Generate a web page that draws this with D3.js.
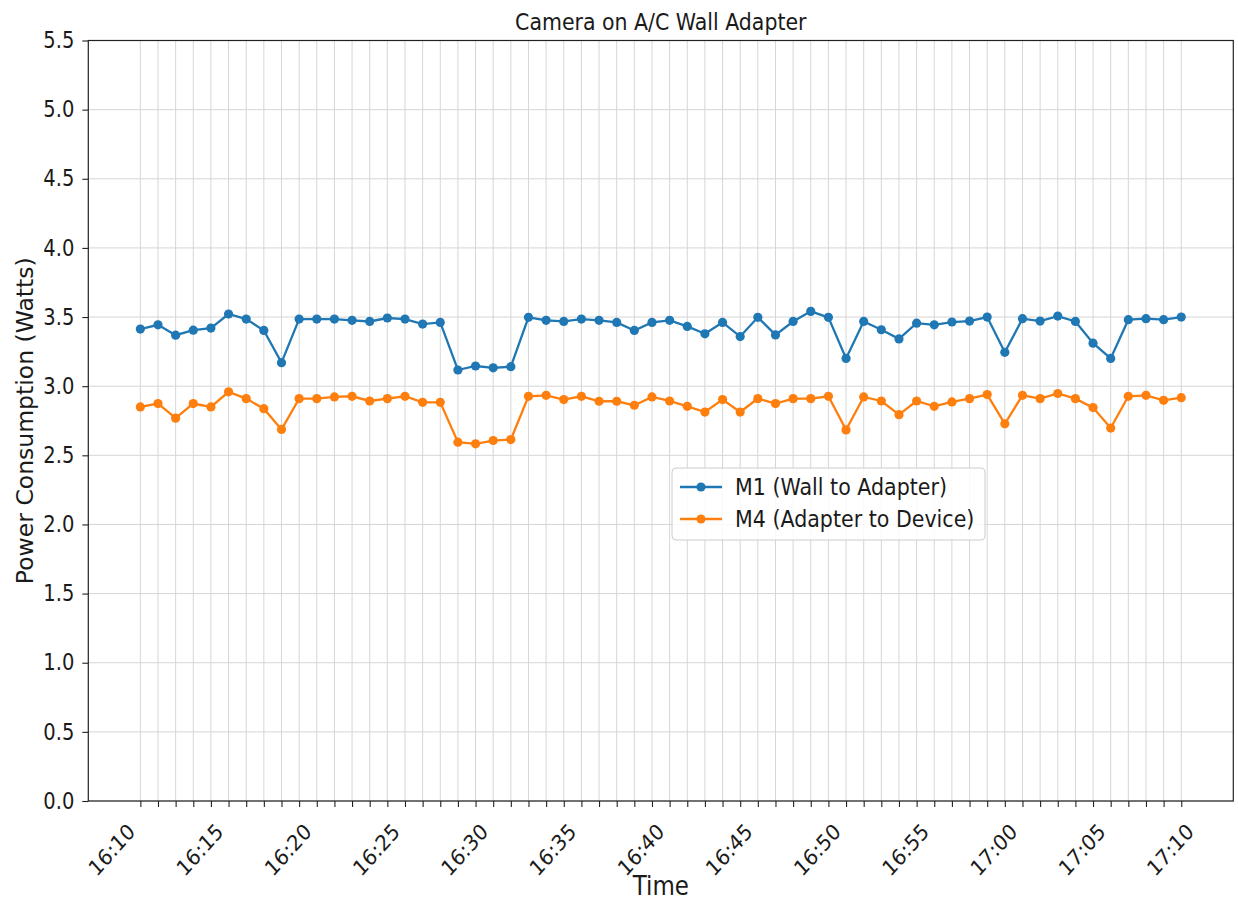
<html>

<head>
  <title>Camera on A/C Wall Adapter</title>
  <script src="https://d3js.org/d3.v7.min.js"></script>
  <style>
    body { margin: 0; background: #ffffff; }
    text { font-family: "DejaVu Sans", sans-serif; fill: #1a1a1a; }
  </style>
</head>

<body>
  <div id="chart"></div>

  <script type="text/javascript">

    // one reading per minute, starting 16:10
    var m1 = [3.413, 3.444, 3.369, 3.405, 3.420, 3.522, 3.485, 3.403, 3.170, 3.485,
              3.485, 3.485, 3.476, 3.468, 3.493, 3.485, 3.449, 3.461, 3.117, 3.146,
              3.133, 3.141, 3.498, 3.476, 3.468, 3.485, 3.476, 3.461, 3.403, 3.461,
              3.476, 3.432, 3.379, 3.461, 3.359, 3.498, 3.371, 3.468, 3.541, 3.498,
              3.201, 3.468, 3.408, 3.342, 3.456, 3.444, 3.464, 3.471, 3.500, 3.245,
              3.488, 3.471, 3.507, 3.468, 3.311, 3.201, 3.481, 3.488, 3.481, 3.500];

    var m4 = [2.850, 2.874, 2.769, 2.874, 2.850, 2.959, 2.910, 2.837, 2.687, 2.910,
              2.910, 2.922, 2.927, 2.893, 2.910, 2.927, 2.883, 2.883, 2.595, 2.583,
              2.607, 2.614, 2.927, 2.934, 2.903, 2.927, 2.891, 2.891, 2.862, 2.922,
              2.893, 2.854, 2.813, 2.903, 2.813, 2.910, 2.874, 2.910, 2.910, 2.927,
              2.684, 2.922, 2.893, 2.794, 2.893, 2.854, 2.886, 2.910, 2.939, 2.728,
              2.934, 2.910, 2.947, 2.910, 2.845, 2.697, 2.927, 2.934, 2.898, 2.917];

    var timeLabels = ["16:10", "16:15", "16:20", "16:25", "16:30", "16:35", "16:40",
                      "16:45", "16:50", "16:55", "17:00", "17:05", "17:10"];
    var labelStep = 5; // minutes between labels

    var yTicks = [0, 0.5, 1, 1.5, 2, 2.5, 3, 3.5, 4, 4.5, 5, 5.5];

    var seriesNames = ["M1 (Wall to Adapter)", "M4 (Adapter to Device)"];
    var seriesColors = ["#1f77b4", "#ff7f0e"];

    // Setting up the graph dimensions and margins
    var margin = {top: 40.5, right: 4.7, bottom: 99, left: 88.3};
    var width = 1238 - margin.left - margin.right;
    var height = 900 - margin.top - margin.bottom;
    var stretch = 'scale(1,1.15)'; // the picture is a bit taller than wide

    var n = m1.length;
    var pad = (n - 1) * 0.05;
    var x = d3.scaleLinear().domain([-pad, n - 1 + pad]).range([0, width]);
    var y = d3.scaleLinear().domain([0, 5.5]).range([height, 0]);

    var svg = d3.select('#chart')
                .append('svg')
                  .attr('width', 1238)
                  .attr('height', 900)
                .append('g')
                  .attr('transform', 'translate(' + margin.left + ',' + margin.top + ')');

    // grid
    svg.append('g')
       .selectAll('line')
       .data(d3.range(n))
       .enter().append('line')
         .attr('x1', function(d) { return x(d); })
         .attr('x2', function(d) { return x(d); })
         .attr('y1', 0)
         .attr('y2', height)
         .attr('stroke', '#d6d6d6')
         .attr('stroke-width', 1);

    svg.append('g')
       .selectAll('line')
       .data(yTicks)
       .enter().append('line')
         .attr('x1', 0)
         .attr('x2', width)
         .attr('y1', function(d) { return y(d); })
         .attr('y2', function(d) { return y(d); })
         .attr('stroke', '#d6d6d6')
         .attr('stroke-width', 1);

    // axes
    var x_axis = d3.axisBottom(x).tickValues(d3.range(n)).tickSize(6).tickFormat('');
    var y_axis = d3.axisLeft(y).tickValues(yTicks).tickSize(6).tickPadding(8)
                   .tickFormat(d3.format('.1f'));

    var gx = svg.append('g')
                .attr('transform', 'translate(0,' + height + ')')
                .call(x_axis);
    gx.select('.domain').remove();
    gx.selectAll('line').attr('stroke', '#222').attr('stroke-width', 1.1);

    var gy = svg.append('g').call(y_axis);
    gy.select('.domain').remove();
    gy.selectAll('line').attr('stroke', '#222').attr('stroke-width', 1.1);
    gy.selectAll('text')
      .attr('transform', stretch)
      .style('font-size', '19.5px')
      .style('font-family', '"DejaVu Sans", sans-serif')
      .attr('fill', '#1a1a1a');

    // rotated time labels
    svg.append('g')
       .selectAll('text')
       .data(timeLabels)
       .enter().append('text')
         .attr('transform', function(d, i) {
           return 'translate(' + (x(i * labelStep) - 4) + ',' + (height + 32) + ') scale(1,1.12) rotate(-45)';
         })
         .style('text-anchor', 'end')
         .style('font-size', '19.5px')
         .text(function(d) { return d; });

    // series
    var line = d3.line()
                 .x(function(d, i) { return x(i); })
                 .y(function(d) { return y(d); });

    [m1, m4].forEach(function(vals, k) {
      svg.append('path')
         .datum(vals)
         .attr('fill', 'none')
         .attr('stroke', seriesColors[k])
         .attr('stroke-width', 2.3)
         .attr('d', line);

      svg.append('g')
         .selectAll('circle')
         .data(vals)
         .enter().append('circle')
           .attr('cx', function(d, i) { return x(i); })
           .attr('cy', function(d) { return y(d); })
           .attr('r', 4.6)
           .attr('fill', seriesColors[k]);
    });

    // frame
    svg.append('rect')
       .attr('width', width)
       .attr('height', height)
       .attr('fill', 'none')
       .attr('stroke', '#222')
       .attr('stroke-width', 1.2);

    // legend
    var legend = svg.append('g')
                    .attr('transform', 'translate(' + (672 - margin.left) + ',' + (468 - margin.top) + ')');
    legend.append('rect')
          .attr('width', 313)
          .attr('height', 72)
          .attr('rx', 4)
          .attr('fill', '#ffffff')
          .attr('fill-opacity', 0.85)
          .attr('stroke', '#cccccc');

    seriesNames.forEach(function(name, k) {
      var row = legend.append('g').attr('transform', 'translate(0,' + (19 + k * 32) + ')');
      row.append('line')
         .attr('x1', 8).attr('x2', 50)
         .attr('stroke', seriesColors[k])
         .attr('stroke-width', 2.3);
      row.append('circle')
         .attr('cx', 29)
         .attr('r', 4.6)
         .attr('fill', seriesColors[k]);
      row.append('text')
         .attr('transform', 'translate(63,0) ' + stretch)
         .attr('dy', '0.35em')
         .style('font-size', '20.6px')
         .text(name);
    });

    // titles
    svg.append('text')
       .attr('transform', 'translate(' + (width / 2) + ',' + (30 - margin.top) + ') ' + stretch)
       .style('text-anchor', 'middle')
       .style('font-size', '20.5px')
       .text('Camera on A/C Wall Adapter');

    svg.append('text')
       .attr('transform', 'translate(' + (width / 2) + ',' + (895 - margin.top) + ') ' + stretch)
       .style('text-anchor', 'middle')
       .style('font-size', '23px')
       .text('Time');

    svg.append('text')
       .attr('transform', 'translate(' + (33 - margin.left) + ',' + (height / 2) + ') rotate(-90)')
       .style('text-anchor', 'middle')
       .style('font-size', '23.5px')
       .text('Power Consumption (Watts)');

  </script>
</body>

</html>
